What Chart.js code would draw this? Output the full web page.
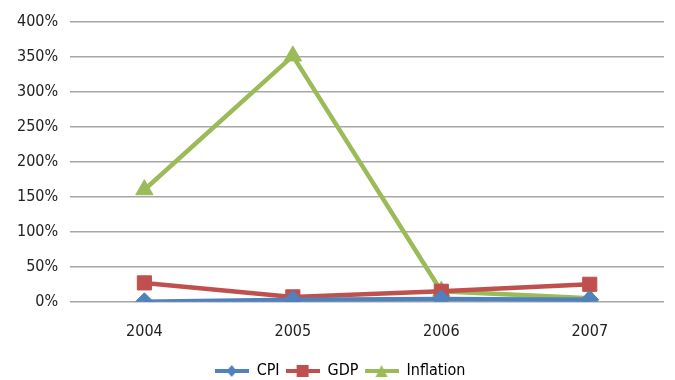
<!DOCTYPE html>
<html>
<head>
<meta charset="utf-8">
<script src="https://cdn.jsdelivr.net/npm/chart.js"></script>
<style>
  html, body { margin: 0; padding: 0; background: #fff; }
  #wrap { width: 675px; height: 380px; }
</style>
</head>
<body>
<div id="wrap"><canvas id="chart" width="675" height="380"></canvas></div>
<script>
// dados
const anos = ['2004', '2005', '2006', '2007'];
const cpi = [0, 3, 4, 3];
const gdp = [27, 7, 15, 25];
const inflation = [160, 351, 15, 5];
const yTicks = [0, 50, 100, 150, 200, 250, 300, 350, 400];

const fonte = "'Liberation Sans Narrow', 'DejaVu Sans Condensed', 'Roboto Condensed', sans-serif";

// icone da legenda: linha com marcador
function iconeLegenda(cor, forma) {
  let c = document.createElement('canvas');
  c.width = 34; c.height = 14;
  let g = c.getContext('2d');
  g.strokeStyle = cor; g.fillStyle = cor; g.lineWidth = 4;
  g.beginPath(); g.moveTo(0, 7); g.lineTo(34, 7); g.stroke();
  g.beginPath();
  if (forma == 'rectRot') {
    g.moveTo(17, 1); g.lineTo(22, 7); g.lineTo(17, 13); g.lineTo(12, 7);
  } else if (forma == 'rect') {
    g.rect(11, 1, 12, 12);
  } else {
    g.moveTo(17, 1); g.lineTo(23, 13); g.lineTo(11, 13);
  }
  g.closePath(); g.fill();
  return c;
}

let series = [
  {label: 'CPI', data: cpi, cor: '#4F81BD', forma: 'rectRot', raio: 9},
  {label: 'GDP', data: gdp, cor: '#C0504D', forma: 'rect', raio: 10},
  {label: 'Inflation', data: inflation, cor: '#9BBB59', forma: 'triangle', raio: 10}
];

let ctx = document.getElementById('chart').getContext('2d');
let grafico = new Chart(ctx, {
  type: 'line',
  data: {
    labels: anos,
    datasets: series.map(s => ({
      label: s.label,
      data: s.data,
      borderColor: s.cor,
      backgroundColor: s.cor,
      borderWidth: 4.5,
      pointStyle: s.forma,
      pointRadius: s.raio,
      pointBorderWidth: 1,
      tension: 0
    }))
  },
  options: {
    responsive: false,
    animation: false,
    layout: {padding: {left: 5, right: 0, top: 5, bottom: -9}},
    plugins: {
      legend: {
        position: 'bottom',
        labels: {
          usePointStyle: true,
          pointStyleWidth: 34,
          boxHeight: 14,
          color: '#222',
          font: {family: fonte, size: 16},
          padding: 6,
          generateLabels: function (chart) {
            return series.map((s, i) => ({
              text: s.label,
              pointStyle: iconeLegenda(s.cor, s.forma),
              fillStyle: s.cor,
              strokeStyle: s.cor,
              lineWidth: 0,
              hidden: false,
              datasetIndex: i
            }));
          }
        }
      },
      tooltip: {enabled: false}
    },
    scales: {
      x: {
        offset: true,
        afterFit: escala => { escala.height += 4; },
        grid: {display: false},
        border: {display: false},
        ticks: {color: '#222', font: {family: fonte, size: 16}, padding: 12}
      },
      y: {
        min: 0,
        max: 400,
        afterBuildTicks: axis => { axis.ticks = yTicks.map(v => ({value: v})); },
        grid: {color: '#a6a6a6', lineWidth: 1.5, drawTicks: false},
        border: {display: false},
        ticks: {
          color: '#222',
          font: {family: fonte, size: 16},
          padding: 12,
          callback: v => v + '%'
        }
      }
    }
  }
});
</script>
</body>
</html>
